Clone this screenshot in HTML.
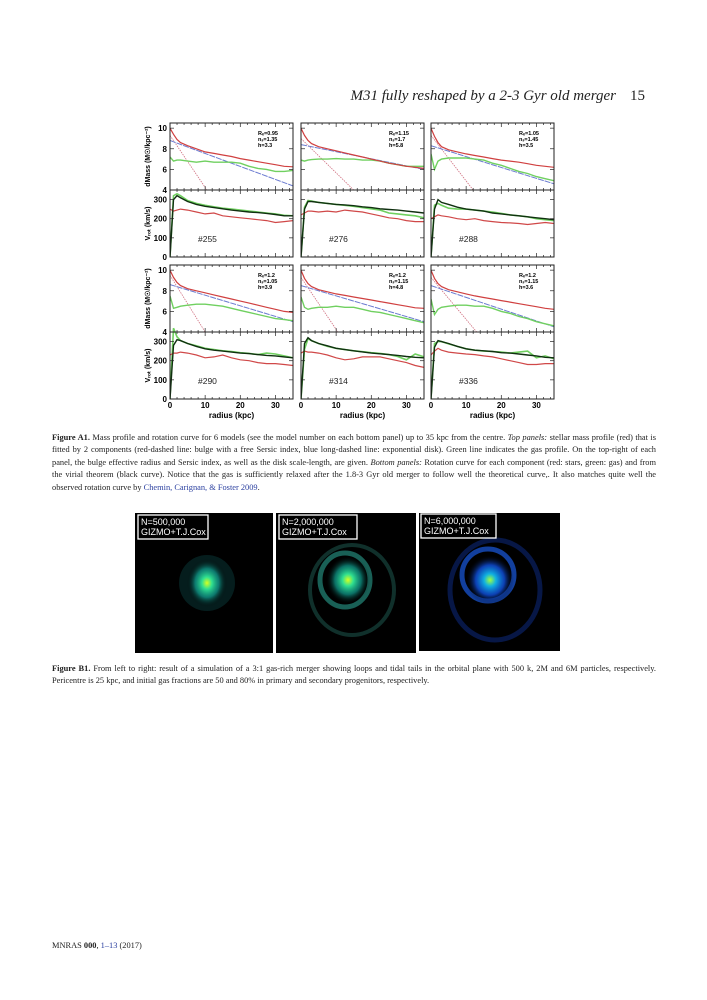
<!DOCTYPE html>
<html><head><meta charset="utf-8"><style>
body{margin:0;background:#fff;}
#page{position:relative;width:707px;height:1000px;overflow:hidden;background:#fff;font-family:"Liberation Serif",serif;color:#222;}
.hdr{position:absolute;top:88px;left:300px;width:345px;text-align:right;font-style:italic;font-size:15px;}
.hdr span{font-style:normal;margin-left:14px;}
.cap{position:absolute;left:52px;width:604px;font-size:8.4px;line-height:12.4px;text-align:justify;}
.cap a{color:#2a3f9f;text-decoration:none;}
.foot{position:absolute;left:52px;top:941px;font-size:8.4px;}
.foot a{color:#2a3f9f;text-decoration:none;}
</style></head><body>
<div id="page">
<div class="hdr">M31 fully reshaped by a 2-3 Gyr old merger<span>15</span></div>
<svg id="fig" width="707" height="1000" style="position:absolute;left:0;top:0"></svg>
<div class="cap" style="top:432px"><b>Figure A1.</b> Mass profile and rotation curve for 6 models (see the model number on each bottom panel) up to 35 kpc from the centre. <i>Top panels:</i> stellar mass profile (red) that is fitted by 2 components (red-dashed line: bulge with a free Sersic index, blue long-dashed line: exponential disk). Green line indicates the gas profile. On the top-right of each panel, the bulge effective radius and Sersic index, as well as the disk scale-length, are given. <i>Bottom panels:</i> Rotation curve for each component (red: stars, green: gas) and from the virial theorem (black curve). Notice that the gas is sufficiently relaxed after the 1.8-3 Gyr old merger to follow well the theoretical curve,. It also matches quite well the observed rotation curve by <a href="#">Chemin, Carignan, &amp; Foster 2009</a>.</div>
<svg width="707" height="160" style="position:absolute;left:0;top:505px">
<defs>
<radialGradient id="c1"><stop offset="0" stop-color="#d8ff20"/><stop offset="0.25" stop-color="#30e090"/><stop offset="0.6" stop-color="#10a090" stop-opacity="0.7"/><stop offset="1" stop-color="#000" stop-opacity="0"/></radialGradient>
<radialGradient id="c3"><stop offset="0" stop-color="#a0ff40"/><stop offset="0.25" stop-color="#10b0e0"/><stop offset="0.6" stop-color="#1050e0" stop-opacity="0.8"/><stop offset="1" stop-color="#000" stop-opacity="0"/></radialGradient>
</defs>
<g>
<rect x="135" y="8" width="138" height="140" fill="#000"/>
<circle cx="207" cy="78" r="28" fill="#0a4040" opacity="0.45"/>
<ellipse cx="207" cy="78" rx="20" ry="24" fill="url(#c1)"/>
<rect x="138" y="10" width="70" height="24" fill="#000" stroke="#fff" stroke-width="1.3"/>
<text x="141" y="20" fill="#fff" font-family="Liberation Sans" font-size="9">N=500,000</text>
<text x="141" y="30" fill="#fff" font-family="Liberation Sans" font-size="9">GIZMO+T.J.Cox</text>
</g>
<g>
<rect x="276" y="8" width="140" height="140" fill="#000"/>
<ellipse cx="345" cy="75" rx="25" ry="27" fill="none" stroke="#2aa090" stroke-width="5" opacity="0.6"/>
<ellipse cx="352" cy="85" rx="42" ry="45" fill="none" stroke="#1a5048" stroke-width="4" opacity="0.6"/>
<ellipse cx="348" cy="75" rx="22" ry="24" fill="url(#c1)"/>
<rect x="279" y="10" width="78" height="24" fill="#000" stroke="#fff" stroke-width="1.3"/>
<text x="282" y="20" fill="#fff" font-family="Liberation Sans" font-size="9">N=2,000,000</text>
<text x="282" y="30" fill="#fff" font-family="Liberation Sans" font-size="9">GIZMO+T.J.Cox</text>
</g>
<g>
<rect x="419" y="8" width="141" height="138" fill="#000"/>
<ellipse cx="488" cy="70" rx="26" ry="26" fill="none" stroke="#1a5ae0" stroke-width="5" opacity="0.7"/>
<ellipse cx="495" cy="85" rx="45" ry="50" fill="none" stroke="#0c2a80" stroke-width="5" opacity="0.55"/>
<ellipse cx="490" cy="75" rx="24" ry="25" fill="url(#c3)"/>
<rect x="421" y="9" width="75" height="24" fill="#000" stroke="#fff" stroke-width="1.3"/>
<text x="424" y="19" fill="#fff" font-family="Liberation Sans" font-size="9">N=6,000,000</text>
<text x="424" y="29" fill="#fff" font-family="Liberation Sans" font-size="9">GIZMO+T.J.Cox</text>
</g>
</svg>
<div class="cap" style="top:663px"><b>Figure B1.</b> From left to right: result of a simulation of a 3:1 gas-rich merger showing loops and tidal tails in the orbital plane with 500 k, 2M and 6M particles, respectively. Pericentre is 25 kpc, and initial gas fractions are 50 and 80% in primary and secondary progenitors, respectively.</div>
<div class="foot">MNRAS <b>000</b>, <a href="#">1–13</a> (2017)</div>
</div>
<script>
const radii=[0,1,2,3,5,7.5,10,12.5,15,17.5,20,22.5,25,27.5,30,32.5,35];
const models=["#255","#276","#288","#290","#314","#336"];
const fitRe=["0.95","1.15","1.05","1.2","1.2","1.2"];
const fitN=["1.35","1.7","1.45","1.05","1.15","1.15"];
const fitH=["3.3","5.8","3.5","3.9","4.8","3.6"];
const massRed=[
[10,9.4,8.9,8.6,8.3,8.0,7.7,7.55,7.4,7.25,7.05,6.9,6.75,6.6,6.45,6.3,6.25],
[10,9.3,8.8,8.5,8.2,8.0,7.8,7.6,7.4,7.2,7.0,6.8,6.6,6.45,6.3,6.2,6.1],
[10,9.2,8.6,8.2,7.9,7.7,7.5,7.35,7.2,7.05,6.9,6.8,6.7,6.55,6.4,6.3,6.2],
[10,9.3,8.8,8.5,8.2,8.0,7.8,7.6,7.4,7.2,7.0,6.8,6.6,6.4,6.2,6.0,5.9],
[10,9.2,8.7,8.4,8.1,7.9,7.7,7.55,7.4,7.25,7.1,6.95,6.8,6.65,6.5,6.35,6.3],
[10,9.2,8.7,8.4,8.1,7.9,7.7,7.5,7.35,7.2,7.05,6.9,6.75,6.6,6.45,6.3,6.2]];
const massGreen=[
[7.2,6.8,6.9,6.9,6.8,6.7,6.8,6.7,6.7,6.7,6.6,6.3,6.1,6.0,5.8,5.8,5.9],
[6.9,6.8,6.9,6.95,7.0,7.0,7.05,7.0,7.0,6.9,6.9,6.8,6.6,6.45,6.3,6.3,6.3],
[7.5,6.0,6.8,7.0,7.1,7.1,7.1,7.0,6.9,6.6,6.4,6.1,5.8,5.6,5.3,5.1,4.9],
[7.5,6.3,6.4,6.5,6.6,6.7,6.7,6.6,6.5,6.3,6.1,5.9,5.7,5.5,5.3,5.2,5.1],
[7.4,6.4,6.2,6.3,6.4,6.4,6.5,6.4,6.4,6.2,6.0,5.9,5.7,5.5,5.3,5.1,4.9],
[7.2,5.7,6.2,6.4,6.5,6.6,6.6,6.5,6.5,6.3,6.0,5.8,5.5,5.3,5.0,4.8,4.6]];
const diskStart=[8.8,8.4,8.3,8.6,8.5,8.5];
const diskEnd=[4.4,6.0,4.6,5.0,5.0,4.5];
const bulgeStart=[9.3,9.0,9.3,9.5,9.3,9.3];
const bulgeEndR=[10.5,15,12,10,10.5,13];
const velBlack=[
[0,300,320,310,290,275,265,258,252,245,240,235,232,228,222,215,215],
[0,250,290,290,285,280,275,272,268,262,258,252,248,245,240,235,230],
[0,250,300,285,275,260,250,245,240,230,225,220,215,210,205,200,195],
[0,280,310,305,290,275,262,255,250,245,240,237,232,228,225,220,215],
[0,290,320,305,290,278,265,258,252,246,240,236,232,228,222,218,215],
[0,270,305,300,290,275,262,255,252,248,242,240,235,230,225,218,215]];
const velGreen=[
[0,320,330,320,295,280,270,262,255,250,245,240,235,230,225,218,215],
[0,260,295,292,285,280,275,270,265,258,252,245,230,225,220,215,205],
[0,270,280,270,255,250,250,245,240,235,228,220,215,210,200,195,190],
[0,370,325,305,290,278,265,258,252,248,242,238,232,240,235,225,215],
[0,260,315,305,290,275,265,258,252,247,242,238,232,222,205,235,220],
[0,290,300,300,288,275,262,255,250,248,245,240,245,250,215,225,210]];
const velRed=[
[250,240,245,250,245,235,225,230,215,210,205,200,195,190,180,185,190],
[220,230,240,240,235,240,235,245,240,235,225,215,205,200,190,185,185],
[200,210,220,215,210,200,195,200,190,185,180,178,175,170,175,180,175],
[230,240,240,245,240,230,215,220,230,215,205,200,190,185,185,180,175],
[240,250,245,245,240,230,215,205,210,220,220,220,210,200,190,175,165],
[230,250,265,255,245,240,235,232,225,220,210,200,190,180,180,185,185]];
const xTicks=[0,10,20,30];
const massTicks=[4,6,8,10];
const velTicks=[0,100,200,300];

const NS="http://www.w3.org/2000/svg";
const svg=document.getElementById('fig');
const colX=[170,301,431], PW=123, rowY=[123,265], PH=67;
function mk(t,a,p){const e=document.createElementNS(NS,t);for(const k in a)e.setAttribute(k,a[k]);(p||svg).appendChild(e);return e;}
function txt(x,y,s,a,p){const e=mk('text',Object.assign({x:x,y:y,'font-family':'Liberation Sans','font-size':8},a),p);e.textContent=s;return e;}
function poly(xs,ys,sx,sy,st,g){return mk('polyline',Object.assign({points:xs.map((x,i)=>sx(x).toFixed(1)+','+sy(ys[i]).toFixed(1)).join(' '),fill:'none'},st),g);}
for(let m=0;m<6;m++){
  const c=m%3,r=Math.floor(m/3),x0=colX[c];
  const sx=v=>x0+v/35*PW;
  const g=mk('g',{});
  
  
  const clip=mk('clipPath',{id:'cl'+m},g);mk('rect',{x:x0,y:rowY[r],width:PW,height:PH*2},clip);
  const my0=rowY[r]; const sm=v=>my0+PH-(v-4)/(10.5-4)*PH;
  const sv=v=>my0+2*PH-v/350*PH;
  const lines=mk('g',{'clip-path':'url(#cl'+m+')'},g);
  const bx=[0,bulgeEndR[m]*1.3], by=[bulgeStart[m],bulgeStart[m]-(bulgeStart[m]-4)*1.3];
  const cl1=mk('clipPath',{id:'cm'+m},g);mk('rect',{x:x0,y:my0,width:PW,height:PH},cl1);
  const mg=mk('g',{'clip-path':'url(#cm'+m+')'},lines);
  const bl=poly(bx,by,sx,sm,{stroke:'#d07080','stroke-width':0.8,'stroke-dasharray':'1.5,1'},mg);
  
  const dl=poly([0,35],[diskStart[m],diskEnd[m]],sx,sm,{stroke:'#6a7ad0','stroke-width':1,'stroke-dasharray':'6,1'},mg);
  
  const gl=poly(radii,massGreen[m],sx,sm,{stroke:'#70d060','stroke-width':1.4},mg);
  
  const rl=poly(radii,massRed[m],sx,sm,{stroke:'#d04040','stroke-width':1.2},mg);
  
  const vg=poly(radii,velGreen[m],sx,sv,{stroke:'#70d060','stroke-width':1.6},lines);
  
  const vr=poly(radii,velRed[m],sx,sv,{stroke:'#d04848','stroke-width':1.2},lines);
  
  const vb=poly(radii,velBlack[m],sx,sv,{stroke:'#103010','stroke-width':1.4},lines);
  
  mk('rect',{x:x0,y:my0,width:PW,height:PH,fill:'none',stroke:'#222','stroke-width':1},g);
  mk('rect',{x:x0,y:my0+PH,width:PW,height:PH,fill:'none',stroke:'#222','stroke-width':1},g);
  for(let t=0;t<=35;t+=2){const L=t%10==0?4:2;
    for(const yy of [my0,my0+PH]){mk('line',{x1:sx(t),x2:sx(t),y1:yy,y2:yy+L,stroke:'#222','stroke-width':0.7},g);}
    for(const yy of [my0+PH,my0+2*PH]){mk('line',{x1:sx(t),x2:sx(t),y1:yy,y2:yy-L,stroke:'#222','stroke-width':0.7},g);}}
  massTicks.forEach(t=>{mk('line',{x1:x0,x2:x0+4,y1:sm(t),y2:sm(t),stroke:'#222','stroke-width':0.7},g);mk('line',{x1:x0+PW,x2:x0+PW-4,y1:sm(t),y2:sm(t),stroke:'#222','stroke-width':0.7},g);
    if(c==0)txt(x0-3,sm(t)+3,String(t),{'text-anchor':'end','font-weight':'bold','font-size':8},g);});
  velTicks.forEach(t=>{mk('line',{x1:x0,x2:x0+4,y1:sv(t),y2:sv(t),stroke:'#222','stroke-width':0.7},g);mk('line',{x1:x0+PW,x2:x0+PW-4,y1:sv(t),y2:sv(t),stroke:'#222','stroke-width':0.7},g);
    if(c==0)txt(x0-3,sv(t)+3,String(t),{'text-anchor':'end','font-weight':'bold','font-size':8},g);});
  if(r==1)xTicks.forEach(t=>txt(sx(t),my0+2*PH+9,String(t),{'text-anchor':'middle','font-weight':'bold','font-size':8},g));
  txt(x0+28,my0+PH+52,models[m],{'font-size':8.5,fill:'#222'},g);
  txt(x0+88,my0+12,'R\u2091='+fitRe[m],{'font-size':5.5,'font-weight':'bold'},g);
  txt(x0+88,my0+18,'n\u209b='+fitN[m],{'font-size':5.5,'font-weight':'bold'},g);
  txt(x0+88,my0+24,'h='+fitH[m],{'font-size':5.5,'font-weight':'bold'},g);
}
for(let r=0;r<2;r++){
  const a=txt(0,0,'dMass (M\u2609/kpc\u207b\u00b2)',{'font-size':7,'font-weight':'bold','text-anchor':'middle',transform:'translate(150,'+(rowY[r]+PH/2)+') rotate(-90)'});
  
  const b=txt(0,0,'V\u1d63\u2092\u209c (km/s)',{'font-size':7,'font-weight':'bold','text-anchor':'middle',transform:'translate(150,'+(rowY[r]+PH*1.5)+') rotate(-90)'});
  
}
colX.forEach(x=>{const t=txt(x+PW/2,418,'radius (kpc)',{'text-anchor':'middle','font-weight':'bold','font-size':8});
  });
</script>
</body></html>
